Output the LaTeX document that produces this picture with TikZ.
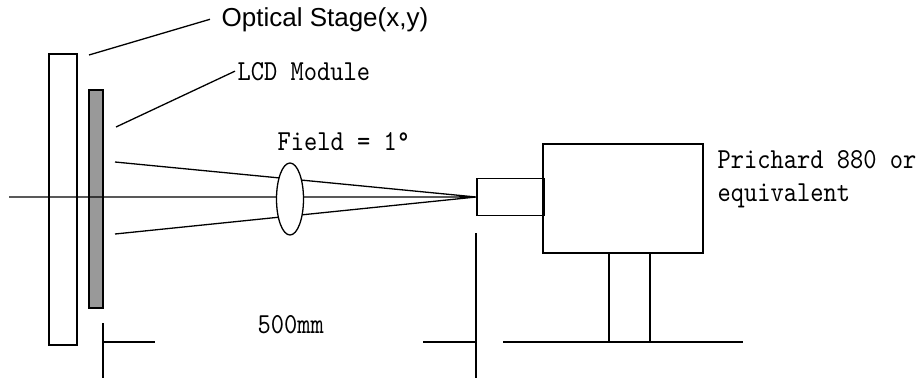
\documentclass[tikz,border=0pt]{standalone}
\usepackage{fontspec}
\setsansfont{Liberation Sans}
\newfontfamily\plainmono{lmmono10-regular.otf}[FakeStretch=0.87]
\usetikzlibrary{shapes.geometric}
\tikzset{
	part/.style={draw, rectangle, inner sep=0pt, line width=1.7pt},
	tag/.style={inner sep=0pt, font=\plainmono\fontsize{29}{33}\selectfont},
}
\begin{document}
\begin{tikzpicture}[x=1pt, y=-1pt, line width=1.3pt]
	\useasboundingbox (0,0) rectangle (923,380);
	\node[part, minimum width=28, minimum height=291] (stage) at (63,199.5) {};
	\node[part, fill=gray!80, minimum width=14, minimum height=218] (lcd) at (96,199) {};
	\coordinate (axisL) at (9,197);
	\coordinate (focus) at (476,197);
	\coordinate (rayT) at (115,162);
	\coordinate (rayB) at (115,234);
	\draw (axisL) -- (focus) (rayT) -- (focus) (rayB) -- (focus);
	\node[draw, ellipse, fill=white, inner sep=0pt, minimum width=27, minimum height=72] (lens) at (290,199) {};
	\node[part, anchor=west, minimum width=67, minimum height=37] (snout) at (focus) {};
	\node[part, minimum width=160, minimum height=109] (camera) at (623,198.5) {};
	\node[part, minimum width=41, minimum height=89] (stand) at (629.5,297.5) {};
	\draw (103,323) -- (103,378) (103,342) -- (155,342);
	\draw (476,233) -- (476,378) (423,342) -- (476,342);
	\draw (503,342) -- (743,342);
	\node[anchor=base west, inner sep=0pt, font=\sffamily\fontsize{26}{30}\selectfont] (stagetxt) at (221,26) {Optical Stage(x,y)};
	\node[tag, anchor=base west] (lcdtxt) at (237,80) {LCD Module};
	\node[tag, anchor=base west] (fieldtxt) at (277,150) {Field = 1°};
	\node[tag, anchor=north west, align=left] (metertxt) at (717,150) {Prichard 880 or\\equivalent};
	\node[tag, anchor=base west] (disttxt) at (257,333) {500mm};
	\coordinate (stagetip) at (89,55);
	\coordinate (lcdtip) at (116,127);
	\draw (stagetip) -- ([xshift=-11]stagetxt.west);
	\draw (lcdtip) -- ([xshift=-2]lcdtxt.west);
\end{tikzpicture}
\end{document}
